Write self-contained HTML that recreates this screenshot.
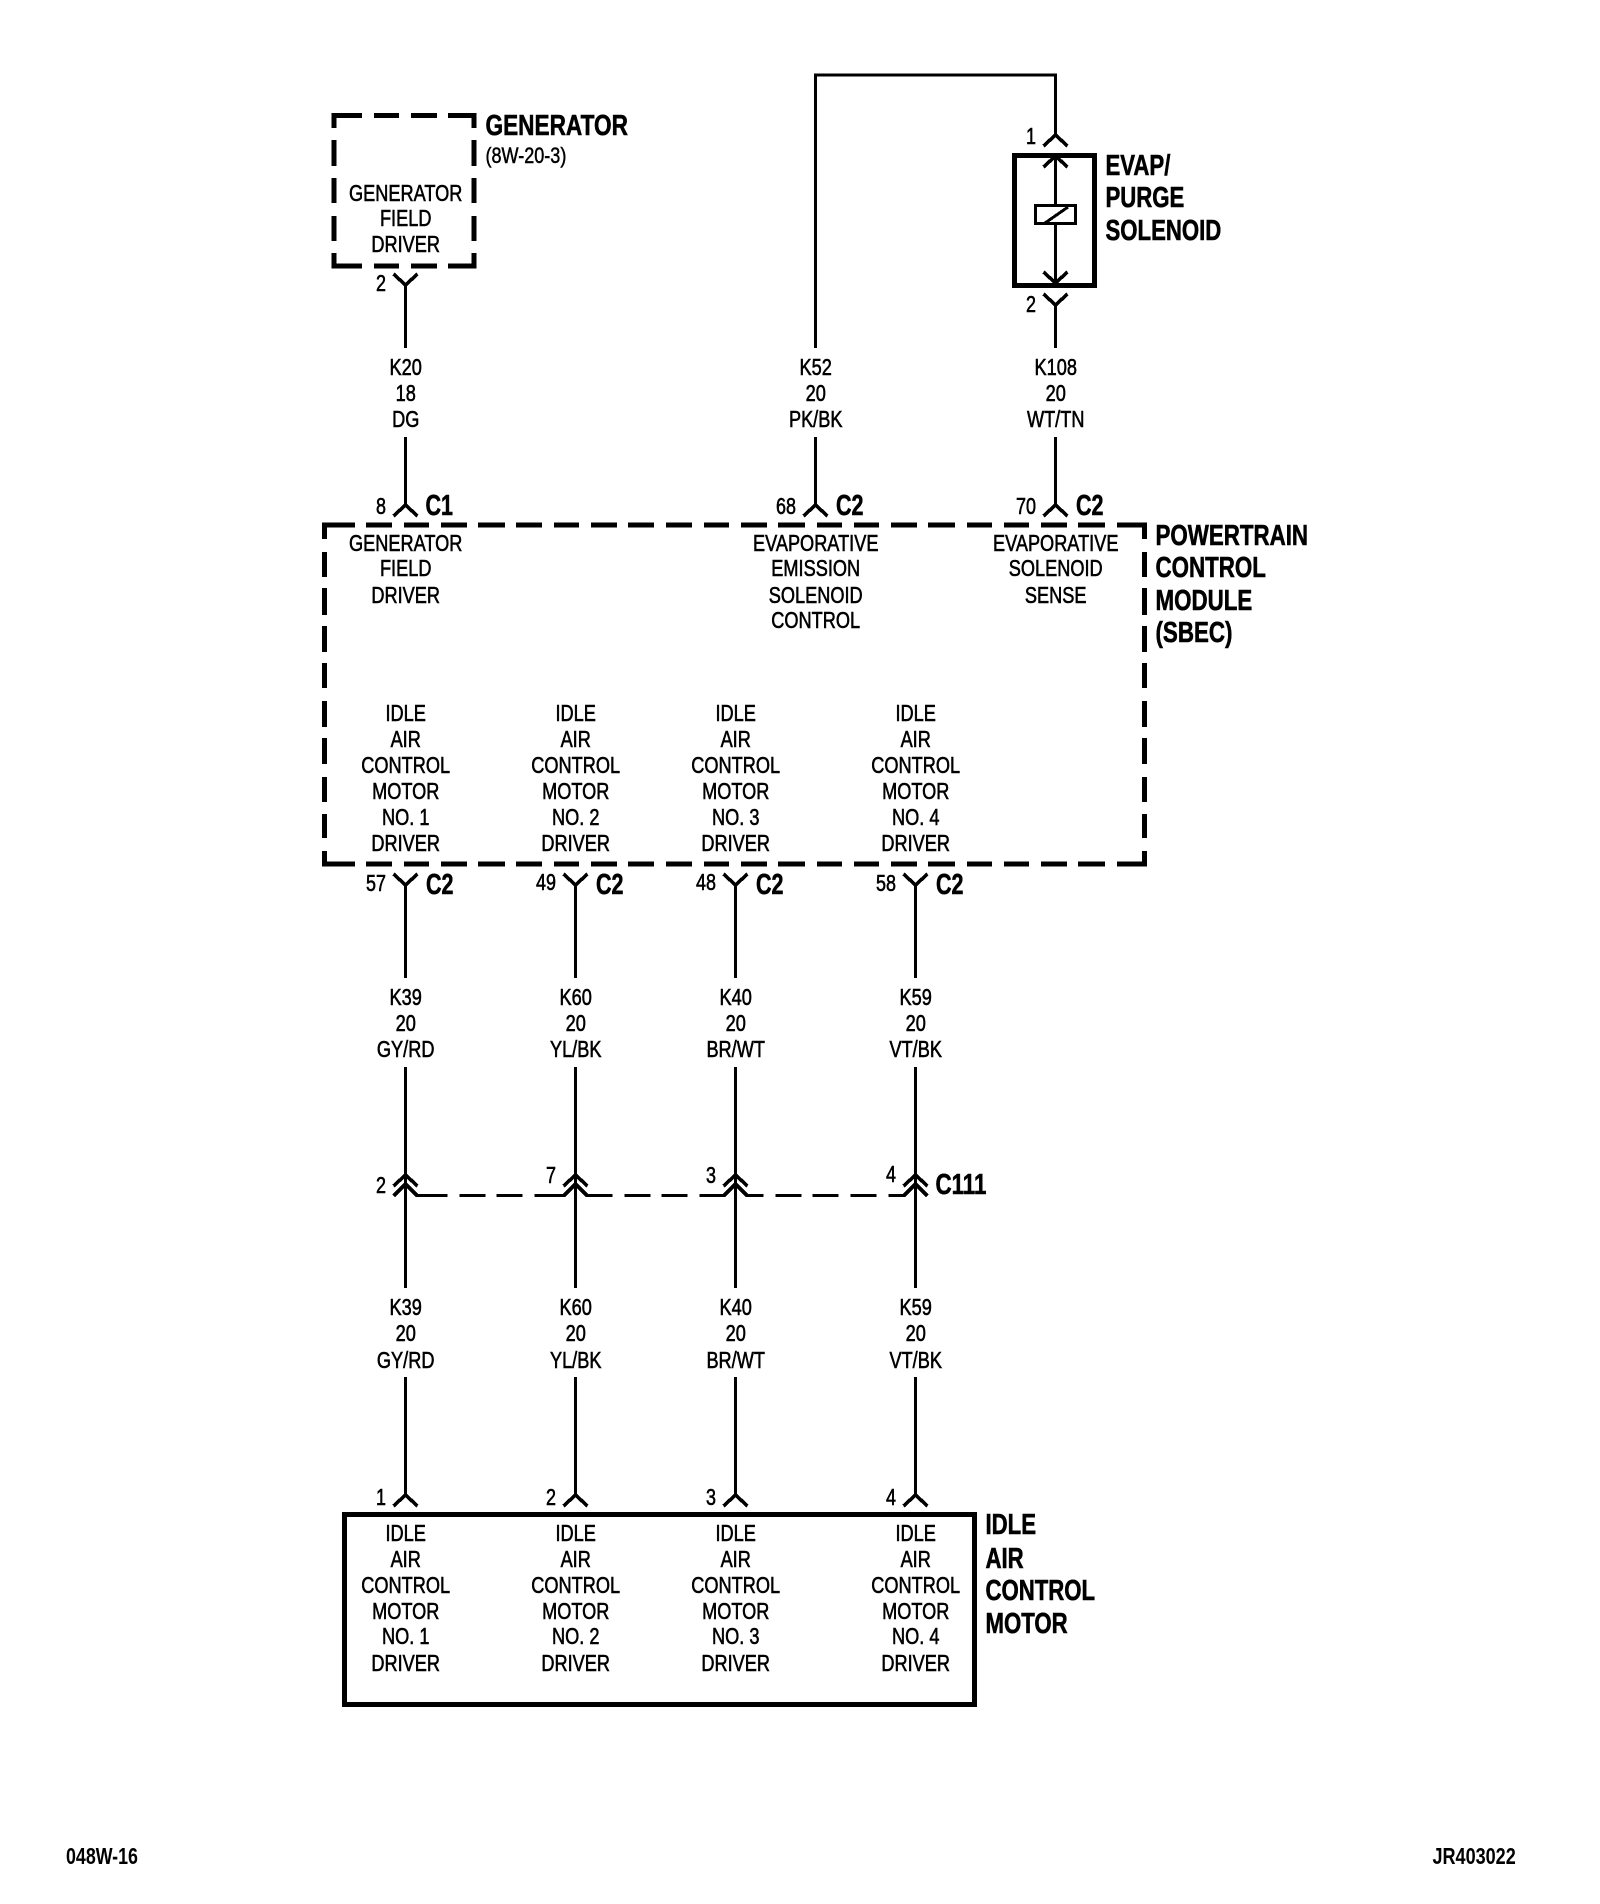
<!DOCTYPE html>
<html>
<head>
<meta charset="utf-8">
<title>Wiring diagram 048W-16</title>
<style>
html,body{margin:0;padding:0;background:#fff;}
svg{display:block;}
text{font-family:"Liberation Sans",sans-serif;fill:#000;}
.s text{font-size:23px;text-anchor:middle;stroke:#000;stroke-width:.6px;}
.n text{font-size:23px;text-anchor:end;stroke:#000;stroke-width:.6px;}
.b text{font-size:29px;font-weight:bold;stroke:#000;stroke-width:.6px;}
</style>
</head>
<body>
<svg xmlns="http://www.w3.org/2000/svg" width="1600" height="1904" viewBox="0 0 1600 1904">
<rect width="1600" height="1904" fill="#fff"/>

<g fill="none" stroke="#000" shape-rendering="crispEdges">
<!-- thick dashed: generator -->
<path stroke-width="5" d="M334 128V115.5H362 M374 115.5H399 M411 115.5H437 M448 115.5H474V128
M334 140V166 M334 178V203 M334 216V241 M334 253V266H362 M374 266H399 M411 266H437 M448 266H474V253
M474 140V166 M474 178V203 M474 216V241"/>
<!-- thick dashed: PCM -->
<path stroke-width="5" d="M324.5 539V525H355 M366 525H392 M404 525H429 M441 525H467 M478 525H505 M516 525H542 M554 525H579 M591 525H617 M628 525H654 M666 525H692 M704 525H729 M741 525H767 M778 525H805 M817 525H842 M854 525H879 M891 525H917 M928 525H955 M967 525H992 M1004 525H1029 M1041 525H1067 M1078 525H1105 M1117 525H1144.5V539
M324.5 552V577 M324.5 588V615 M324.5 626V652 M324.5 663V688 M324.5 701V727 M324.5 738V764 M324.5 777V802 M324.5 814V838
M1144.5 552V577 M1144.5 588V615 M1144.5 626V652 M1144.5 663V688 M1144.5 701V727 M1144.5 738V764 M1144.5 777V802 M1144.5 814V838
M324.5 851V864H355 M366 864H392 M404 864H429 M441 864H467 M478 864H505 M516 864H542 M554 864H579 M591 864H617 M628 864H654 M666 864H692 M704 864H729 M741 864H767 M778 864H805 M817 864H842 M854 864H879 M891 864H917 M928 864H955 M967 864H992 M1004 864H1029 M1041 864H1067 M1078 864H1105 M1117 864H1144.5V851"/>
<!-- solid boxes -->
<rect x="1014.5" y="155.5" width="80" height="130" stroke-width="5"/>
<rect x="344.5" y="1514.5" width="630" height="190" stroke-width="5"/>
<rect x="1035.5" y="205.5" width="40" height="18" stroke-width="3"/>
<path stroke-width="3" d="M1045 223L1068 207"/>

<!-- wires -->
<g transform="translate(.5 0)">
<path stroke-width="3" d="M405 285V348 M405 437V505
M815 348V75H1055V135 M815 437V505
M1055 156V204 M1055 225V283
M1055 305V348 M1055 437V505
M405 885V978 M575 885V978 M735 885V978 M915 885V978
M405 1067V1288 M575 1067V1288 M735 1067V1288 M915 1067V1288
M415 1195.5H447 M459 1195.5H485 M496 1195.5H522 M534 1195.5H564 M585 1195.5H612 M624 1195.5H650 M661 1195.5H687 M699 1195.5H725 M745 1195.5H763 M775 1195.5H801 M812 1195.5H838 M850 1195.5H876 M888 1195.5H905
M405 1377V1495 M575 1377V1495 M735 1377V1495 M915 1377V1495"/>
<!-- connectors -->
<path stroke-width="3.6" d="M393 274L405 285L417 274 M393 516L405 505L417 516
M803 516L815 505L827 516
M1043 146L1055 135L1067 146 M1043 167L1055 156L1067 167 M1043 272L1055 283L1067 272
M1043 294L1055 305L1067 294 M1043 516L1055 505L1067 516
M393 874L405 885L417 874 M563 874L575 885L587 874 M723 874L735 885L747 874 M903 874L915 885L927 874
M393 1186L405 1175L417 1186 M393 1196L405 1184L417 1196
M563 1186L575 1175L587 1186 M563 1196L575 1184L587 1196
M723 1186L735 1175L747 1186 M723 1196L735 1184L747 1196
M903 1186L915 1175L927 1186 M903 1196L915 1184L927 1196
M393 1506L405 1495L417 1506 M563 1506L575 1495L587 1506 M723 1506L735 1495L747 1506 M903 1506L915 1495L927 1506"/>
</g>
</g>

<!-- small centered text columns -->
<g class="s">
<g transform="translate(405.7 0) scale(.79 1)">
<text y="201">GENERATOR</text><text y="226">FIELD</text><text y="252">DRIVER</text>
<text y="375">K20</text><text y="401">18</text><text y="427">DG</text>
<text y="551">GENERATOR</text><text y="576">FIELD</text><text y="603">DRIVER</text>
<text y="721">IDLE</text><text y="747">AIR</text><text y="773">CONTROL</text><text y="799">MOTOR</text><text y="825">NO. 1</text><text y="851">DRIVER</text>
<text y="1005">K39</text><text y="1031">20</text><text y="1057">GY/RD</text>
<text y="1315">K39</text><text y="1341">20</text><text y="1368">GY/RD</text>
<text y="1541">IDLE</text><text y="1567">AIR</text><text y="1593">CONTROL</text><text y="1619">MOTOR</text><text y="1644">NO. 1</text><text y="1671">DRIVER</text>
</g>
<g transform="translate(575.7 0) scale(.79 1)">
<text y="721">IDLE</text><text y="747">AIR</text><text y="773">CONTROL</text><text y="799">MOTOR</text><text y="825">NO. 2</text><text y="851">DRIVER</text>
<text y="1005">K60</text><text y="1031">20</text><text y="1057">YL/BK</text>
<text y="1315">K60</text><text y="1341">20</text><text y="1368">YL/BK</text>
<text y="1541">IDLE</text><text y="1567">AIR</text><text y="1593">CONTROL</text><text y="1619">MOTOR</text><text y="1644">NO. 2</text><text y="1671">DRIVER</text>
</g>
<g transform="translate(735.7 0) scale(.79 1)">
<text y="721">IDLE</text><text y="747">AIR</text><text y="773">CONTROL</text><text y="799">MOTOR</text><text y="825">NO. 3</text><text y="851">DRIVER</text>
<text y="1005">K40</text><text y="1031">20</text><text y="1057">BR/WT</text>
<text y="1315">K40</text><text y="1341">20</text><text y="1368">BR/WT</text>
<text y="1541">IDLE</text><text y="1567">AIR</text><text y="1593">CONTROL</text><text y="1619">MOTOR</text><text y="1644">NO. 3</text><text y="1671">DRIVER</text>
</g>
<g transform="translate(915.7 0) scale(.79 1)">
<text y="721">IDLE</text><text y="747">AIR</text><text y="773">CONTROL</text><text y="799">MOTOR</text><text y="825">NO. 4</text><text y="851">DRIVER</text>
<text y="1005">K59</text><text y="1031">20</text><text y="1057">VT/BK</text>
<text y="1315">K59</text><text y="1341">20</text><text y="1368">VT/BK</text>
<text y="1541">IDLE</text><text y="1567">AIR</text><text y="1593">CONTROL</text><text y="1619">MOTOR</text><text y="1644">NO. 4</text><text y="1671">DRIVER</text>
</g>
<g transform="translate(815.7 0) scale(.79 1)">
<text y="375">K52</text><text y="401">20</text><text y="427">PK/BK</text>
<text y="551">EVAPORATIVE</text><text y="576">EMISSION</text><text y="603">SOLENOID</text><text y="628">CONTROL</text>
</g>
<g transform="translate(1055.7 0) scale(.79 1)">
<text y="375">K108</text><text y="401">20</text><text y="427">WT/TN</text>
<text y="551">EVAPORATIVE</text><text y="576">SOLENOID</text><text y="603">SENSE</text>
</g>
</g>

<!-- pin numbers -->
<g class="n">
<text transform="translate(386 291) scale(.78 1)">2</text>
<text transform="translate(386 514) scale(.78 1)">8</text>
<text transform="translate(796 514) scale(.78 1)">68</text>
<text transform="translate(1036 514) scale(.78 1)">70</text>
<text transform="translate(1036 144) scale(.78 1)">1</text>
<text transform="translate(1036 312) scale(.78 1)">2</text>
<text transform="translate(386 891) scale(.78 1)">57</text>
<text transform="translate(556 890) scale(.78 1)">49</text>
<text transform="translate(716 890) scale(.78 1)">48</text>
<text transform="translate(896 891) scale(.78 1)">58</text>
<text transform="translate(386 1193) scale(.78 1)">2</text>
<text transform="translate(556 1183) scale(.78 1)">7</text>
<text transform="translate(716 1183) scale(.78 1)">3</text>
<text transform="translate(896 1182) scale(.78 1)">4</text>
<text transform="translate(386 1505) scale(.78 1)">1</text>
<text transform="translate(556 1505) scale(.78 1)">2</text>
<text transform="translate(716 1505) scale(.78 1)">3</text>
<text transform="translate(896 1505) scale(.78 1)">4</text>
</g>

<!-- bold labels -->
<g class="b">
<text transform="translate(485.5 135) scale(.78 1)">GENERATOR</text>
<g transform="translate(1105.5 0) scale(.765 1)"><text y="175">EVAP/</text><text y="207">PURGE</text><text y="240">SOLENOID</text></g>
<g transform="translate(1155.5 0) scale(.77 1)"><text y="545">POWERTRAIN</text><text y="577">CONTROL</text><text y="610">MODULE</text><text y="642">(SBEC)</text></g>
<g transform="translate(985.5 0) scale(.765 1)"><text y="1534">IDLE</text><text y="1568">AIR</text><text y="1600">CONTROL</text><text y="1633">MOTOR</text></g>
<text transform="translate(425.5 515) scale(.74 1)">C1</text>
<text transform="translate(836 515) scale(.74 1)">C2</text>
<text transform="translate(1076 515) scale(.74 1)">C2</text>
<text transform="translate(426 894) scale(.74 1)">C2</text>
<text transform="translate(596 894) scale(.74 1)">C2</text>
<text transform="translate(756 894) scale(.74 1)">C2</text>
<text transform="translate(936 894) scale(.74 1)">C2</text>
<text transform="translate(935.5 1194) scale(.77 1)">C111</text>
</g>

<text transform="translate(485.5 163) scale(.82 1)" style="font-size:22px;stroke:#000;stroke-width:.5px">(8W-20-3)</text>
<text transform="translate(66 1864) scale(.775 1)" style="font-size:23px;font-weight:bold">048W-16</text>
<text transform="translate(1432.5 1864) scale(.785 1)" style="font-size:23px;font-weight:bold">JR403022</text>
</svg>
</body>
</html>
